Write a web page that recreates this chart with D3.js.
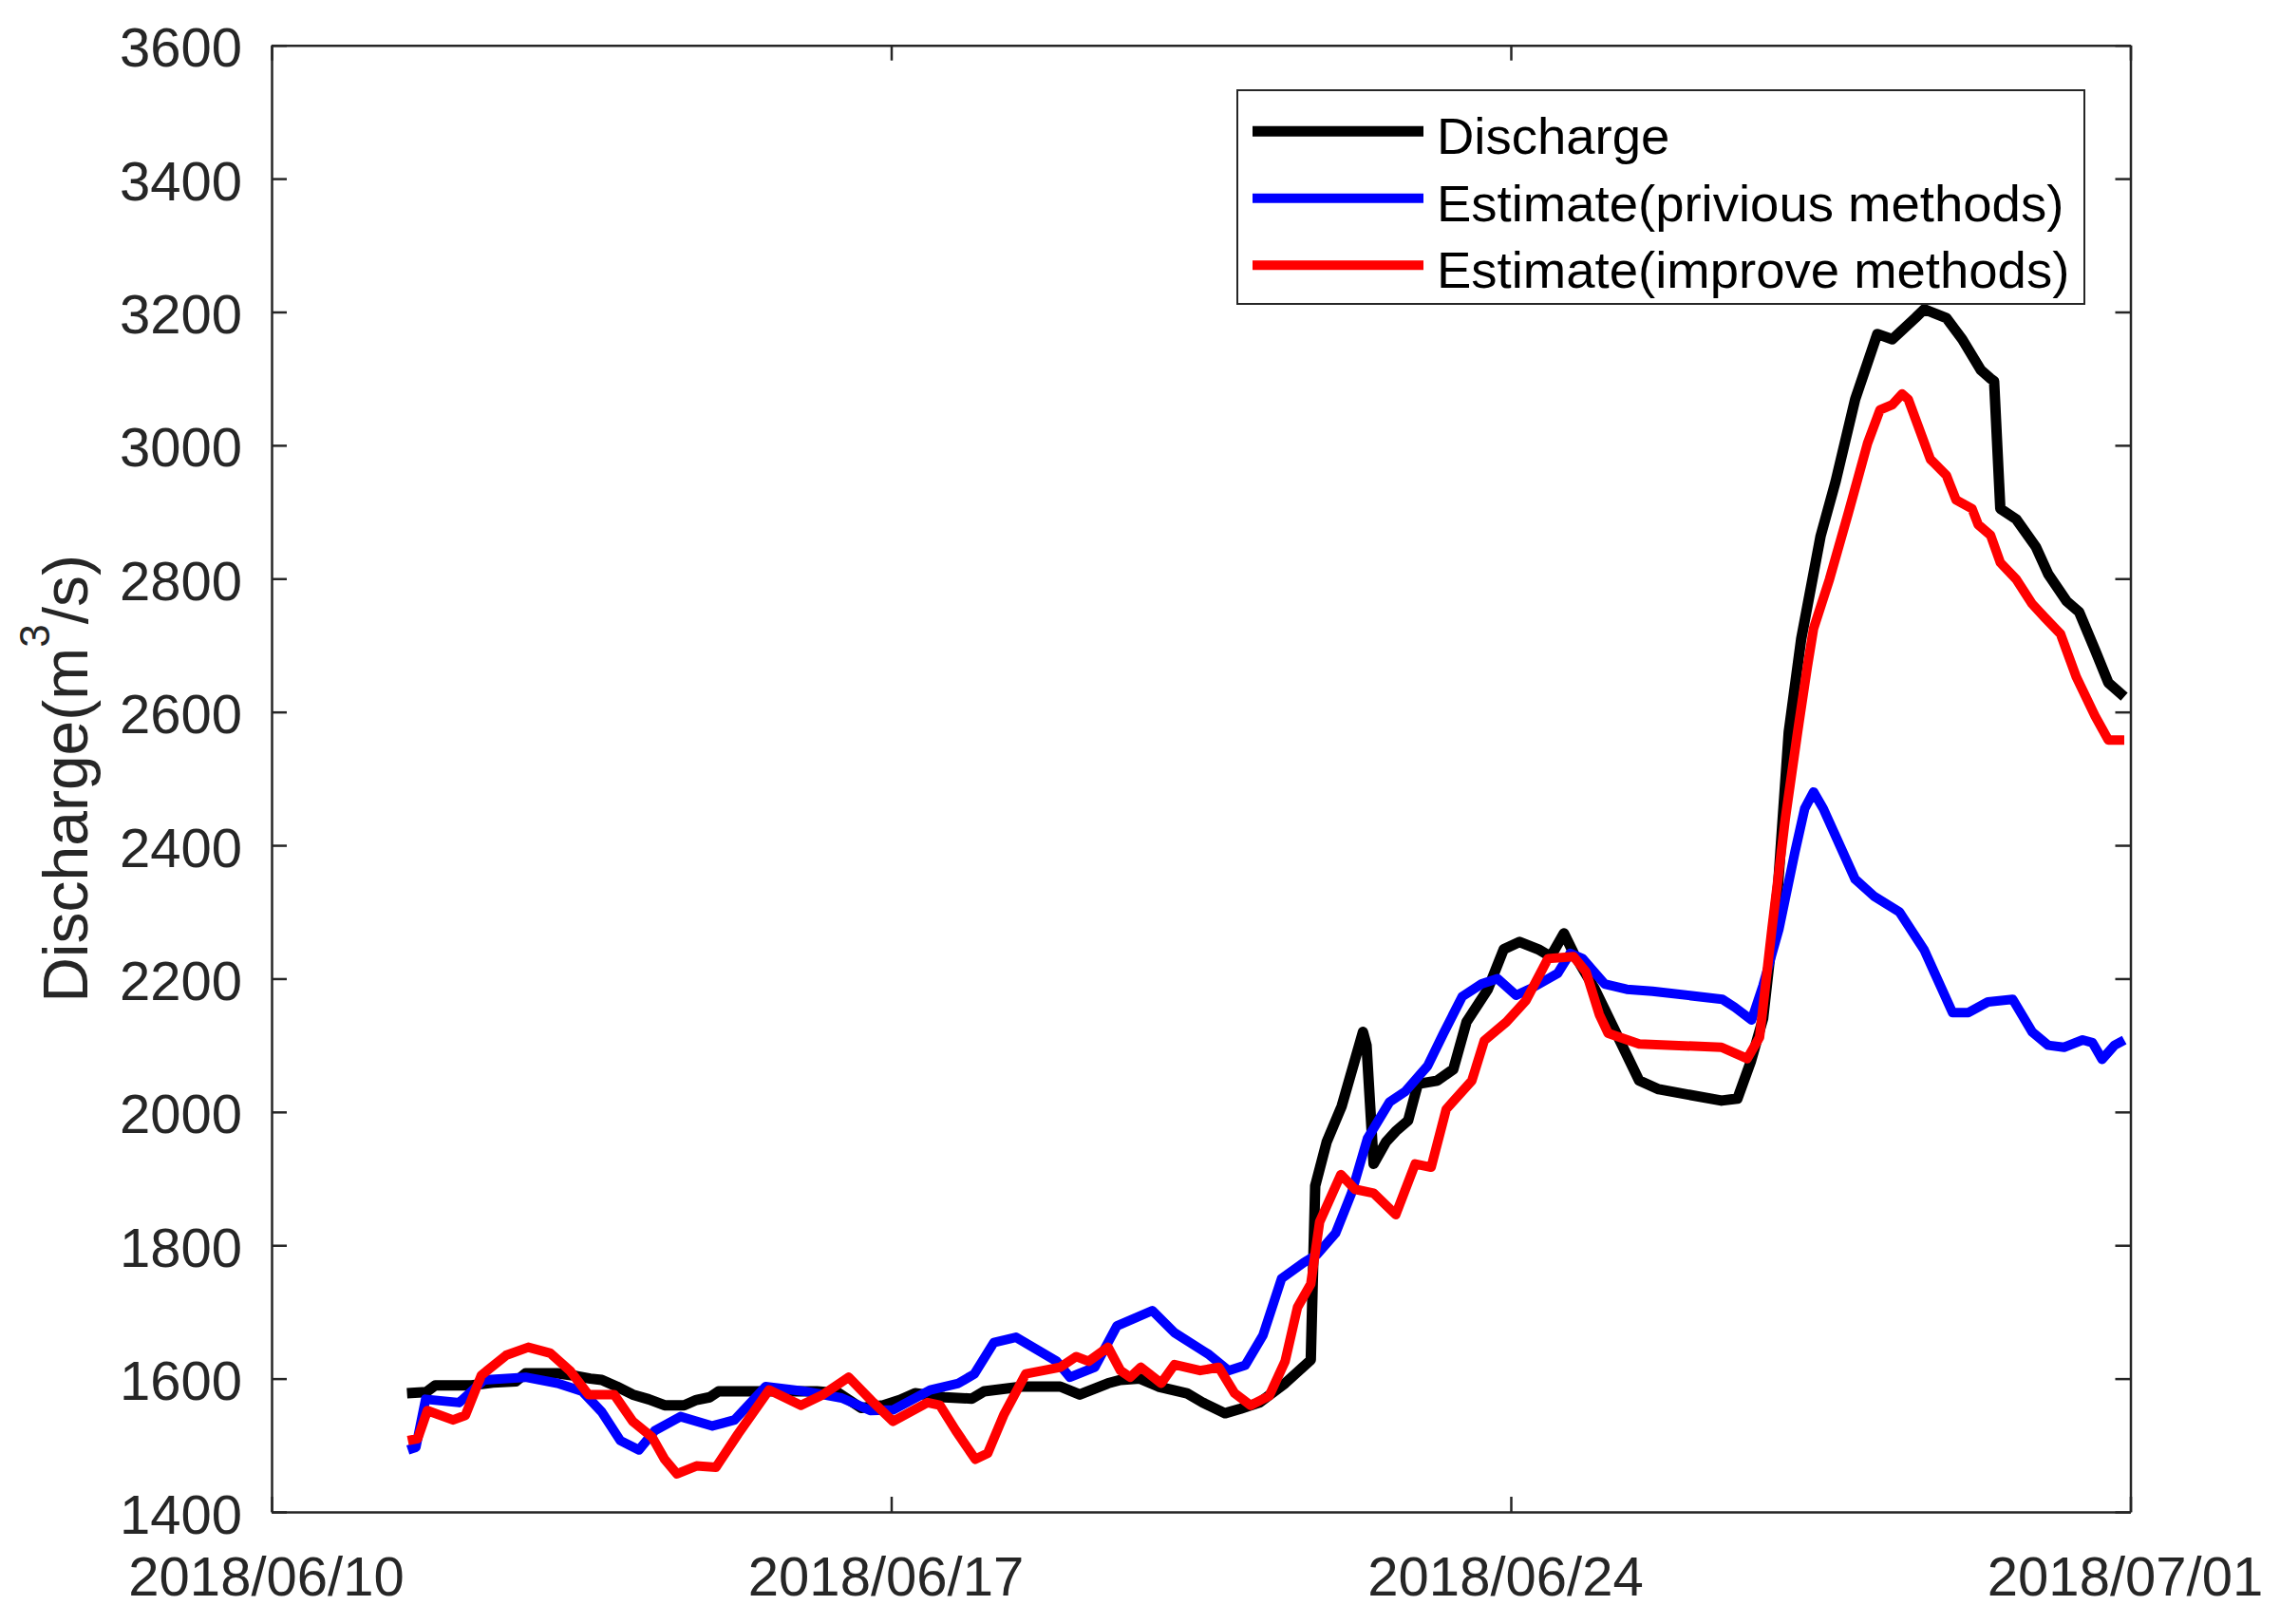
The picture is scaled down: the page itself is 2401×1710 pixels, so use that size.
<!DOCTYPE html>
<html>
<head>
<meta charset="utf-8">
<script src="https://cdn.jsdelivr.net/npm/d3@7"></script>
<style>
  html, body { margin: 0; padding: 0; background: #ffffff; }
  svg { display: block; }
  text { font-family: "Liberation Sans", Arial, Helvetica, sans-serif; fill: #262626; }
</style>
</head>
<body>
<div id="chart"></div>
<script>
// ---- data (days since 2018/06/10 00:00, discharge in m^3/s) ----
const dischargeDays = [1.53,1.75,1.85,2.26,2.5,2.76,2.87,3.23,3.44,3.6,3.73,3.9,4.08,4.26,4.44,4.66,4.8,4.95,5.05,5.44,5.8,6.16,6.41,6.66,6.91,7.1,7.27,7.6,7.91,8.05,8.48,8.91,9.13,9.45,9.59,9.81,10.02,10.34,10.52,10.77,10.95,11.16,11.45,11.74,11.79,11.92,12.09,12.33,12.37,12.45,12.59,12.7,12.84,12.95,13.17,13.35,13.5,13.74,13.92,14.1,14.31,14.45,14.6,14.71,14.95,15.17,15.45,15.67,16.38,16.56,16.71,16.85,17.02,17.14,17.28,17.5,17.67,17.89,18.14,18.31,18.57,18.67,18.92,19.1,19.31,19.42,19.46,19.53,19.71,19.93,20.07,20.28,20.42,20.6,20.75,20.93];
const dischargeValues = [1578,1580,1590,1590,1594,1596,1608,1608,1604,1600,1598,1588,1576,1569,1560,1560,1568,1572,1581,1581,1581,1581,1578,1556,1560,1568,1578,1572,1570,1581,1588,1588,1576,1593,1598,1600,1588,1578,1564,1548,1555,1564,1593,1628,1889,1955,2009,2120,2100,1922,1955,1971,1987,2042,2047,2064,2135,2184,2244,2255,2244,2233,2268,2238,2184,2124,2047,2034,2017,2020,2075,2140,2341,2570,2709,2864,2946,3069,3167,3159,3191,3204,3191,3159,3113,3100,3096,2905,2889,2848,2807,2766,2750,2693,2644,2623];

const previousDays = [1.54,1.63,1.74,2.12,2.4,2.87,3.23,3.51,3.73,3.94,4.15,4.33,4.62,4.98,5.23,5.58,6.02,6.44,6.77,7.02,7.44,7.76,7.94,8.16,8.41,8.87,9.02,9.3,9.55,9.95,10.2,10.59,10.81,11.0,11.2,11.41,11.66,11.81,12.02,12.2,12.38,12.63,12.81,13.06,13.24,13.45,13.67,13.85,14.06,14.24,14.53,14.67,14.81,15.06,15.31,15.6,16.39,16.53,16.72,16.85,17.03,17.21,17.32,17.42,17.53,17.89,18.1,18.39,18.67,18.99,19.17,19.39,19.67,19.89,20.07,20.25,20.46,20.57,20.68,20.82,20.93];
const previousValues = [1493,1497,1569,1564,1598,1602,1593,1581,1550,1507,1493,1522,1543,1529,1538,1588,1581,1571,1552,1553,1583,1593,1607,1654,1662,1626,1602,1617,1679,1702,1669,1636,1612,1620,1665,1750,1774,1786,1818,1878,1960,2015,2031,2069,2118,2173,2192,2200,2175,2186,2208,2238,2230,2192,2184,2181,2169,2157,2138,2190,2275,2390,2455,2480,2455,2349,2324,2300,2243,2149,2149,2165,2169,2120,2100,2097,2108,2104,2079,2100,2108];

const improvedDays = [1.54,1.65,1.76,2.05,2.19,2.37,2.65,2.9,3.15,3.37,3.58,3.87,4.08,4.3,4.44,4.58,4.8,5.02,5.27,5.62,5.98,6.23,6.52,6.8,7.02,7.41,7.55,7.73,7.95,8.09,8.27,8.52,8.91,9.09,9.23,9.45,9.59,9.7,9.82,10.05,10.2,10.49,10.7,10.88,11.06,11.27,11.45,11.59,11.74,11.84,12.08,12.24,12.45,12.7,12.92,13.1,13.27,13.56,13.7,13.95,14.17,14.42,14.71,14.85,15.0,15.1,15.45,16.38,16.67,16.81,16.95,17.1,17.24,17.35,17.42,17.6,17.81,18.03,18.17,18.31,18.42,18.49,18.74,18.92,19.03,19.21,19.28,19.42,19.53,19.71,19.89,20.03,20.21,20.39,20.6,20.75,20.93];
const improvedValues = [1507,1510,1552,1538,1545,1605,1635,1647,1638,1612,1576,1576,1536,1512,1479,1457,1469,1467,1517,1583,1560,1576,1602,1564,1536,1564,1560,1522,1479,1488,1545,1607,1617,1633,1626,1647,1612,1602,1617,1593,1621,1612,1617,1578,1560,1574,1626,1707,1742,1835,1906,1884,1878,1846,1922,1917,2004,2047,2107,2135,2167,2230,2233,2210,2146,2118,2102,2097,2080,2112,2275,2439,2570,2668,2725,2799,2897,3003,3053,3061,3077,3069,2979,2955,2918,2905,2881,2865,2824,2799,2762,2742,2717,2652,2594,2558,2558];

const seriesNames = ["Discharge", "Estimate(privious methods)", "Estimate(improve methods)"];
const yTickValues = [1400,1600,1800,2000,2200,2400,2600,2800,3000,3200,3400,3600];
const xTickLabels = ["2018/06/10", "2018/06/17", "2018/06/24", "2018/07/01"];

// ---- layout ----
const W = 2401, H = 1710;
const plotLeft = 286, plotRight = 2243.5, plotTop = 47.7, plotBottom = 1592;
const colors = ["#000000", "#0000ff", "#ff0000"];
const widths = [11, 10, 10];
const axisColor = "#262626";

const parseLabel = d3.timeParse("%Y/%m/%d");
const fmt = d3.timeFormat("%Y/%m/%d");
const startDate = parseLabel(xTickLabels[0]);
const endDate = parseLabel(xTickLabels[xTickLabels.length - 1]);
const toDate = d => new Date(startDate.getTime() + d * 864e5);

const x = d3.scaleTime().domain([startDate, endDate]).range([plotLeft, plotRight]);
const y = d3.scaleLinear().domain([1400, 3600]).range([plotBottom, plotTop]);

const svg = d3.select("#chart").append("svg")
  .attr("width", W).attr("height", H)
  .attr("viewBox", `0 0 ${W} ${H}`);
svg.append("rect").attr("width", W).attr("height", H).attr("fill", "#fff");

// series
const series = [
  { days: dischargeDays, values: dischargeValues },
  { days: previousDays, values: previousValues },
  { days: improvedDays, values: improvedValues }
];
const line = d3.line().x(d => x(d.t)).y(d => y(d.v));
const plot = svg.append("g");
series.forEach((s, i) => {
  const pts = s.days.map((d, k) => ({ t: toDate(d), v: s.values[k] }));
  plot.append("path")
    .datum(pts)
    .attr("d", line)
    .attr("fill", "none")
    .attr("stroke", colors[i])
    .attr("stroke-width", widths[i])
    .attr("stroke-linejoin", "round")
    .attr("stroke-linecap", "butt");
});

// axes
const xTicks = xTickLabels.map(parseLabel);
function styleAxis(g) {
  g.attr("font-family", null).attr("font-size", null);
  g.select(".domain").attr("stroke", axisColor).attr("stroke-width", 2.5);
  g.selectAll(".tick line").attr("stroke", axisColor).attr("stroke-width", 2.5);
  g.selectAll("text").attr("fill", axisColor)
    .style("font-family", '"Liberation Sans", Arial, Helvetica, sans-serif');
}

svg.append("g").attr("transform", `translate(0,${plotBottom})`)
  .call(d3.axisBottom(x).tickValues(xTicks).tickFormat(fmt).tickSizeInner(-16).tickSizeOuter(0).tickPadding(47))
  .call(styleAxis)
  .call(g => g.selectAll("text").style("font-size", "58px").attr("dx", -6));

svg.append("g").attr("transform", `translate(0,${plotTop})`)
  .call(d3.axisTop(x).tickValues(xTicks).tickFormat("").tickSizeInner(-16).tickSizeOuter(0))
  .call(styleAxis);

svg.append("g").attr("transform", `translate(${plotLeft},0)`)
  .call(d3.axisLeft(y).tickValues(yTickValues).tickFormat(d3.format("d")).tickSizeInner(-16).tickSizeOuter(0).tickPadding(31))
  .call(styleAxis)
  .call(g => g.selectAll("text").style("font-size", "58px").attr("dy", "0.38em"));

svg.append("g").attr("transform", `translate(${plotRight},0)`)
  .call(d3.axisRight(y).tickValues(yTickValues).tickFormat("").tickSizeInner(-16).tickSizeOuter(0))
  .call(styleAxis);

// y-axis label
const yl = svg.append("text")
  .attr("transform", `translate(92,${(plotTop + plotBottom) / 2}) rotate(-90)`)
  .attr("text-anchor", "middle")
  .style("font-size", "66px");
yl.append("tspan").text("Discharge(m");
yl.append("tspan").attr("dy", -40).style("font-size", "44px").text("3");
yl.append("tspan").attr("dy", 40).text("/s)");

// legend
const lg = svg.append("g");
lg.append("rect")
  .attr("x", 1303).attr("y", 95).attr("width", 892).attr("height", 225)
  .attr("fill", "#fff").attr("stroke", axisColor).attr("stroke-width", 2);
seriesNames.forEach((name, i) => {
  const cy = 138.3 + i * 70.5;
  lg.append("line")
    .attr("x1", 1319).attr("x2", 1499).attr("y1", cy).attr("y2", cy)
    .attr("stroke", colors[i]).attr("stroke-width", widths[i]);
  lg.append("text")
    .attr("x", 1513).attr("y", cy + 24)
    .style("font-size", "54.5px")
    .style("fill", "#000")
    .text(name);
});
</script>
</body>
</html>
